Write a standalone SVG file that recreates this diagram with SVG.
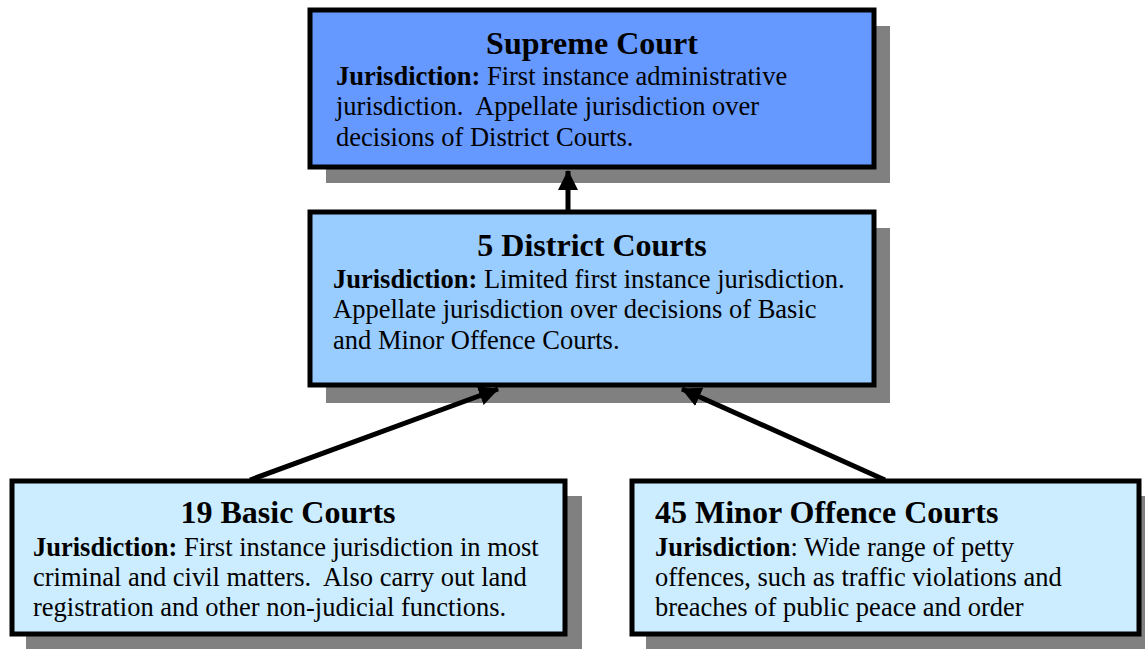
<svg xmlns="http://www.w3.org/2000/svg" width="1145" height="649" viewBox="0 0 1145 649">
<style>
.box{stroke:#000;stroke-width:5}
.sh{fill:#808080}
.t{font-family:"Liberation Serif","Times New Roman",serif;fill:#000;white-space:pre}
.title{font-size:32px;font-weight:bold}
.body{font-size:26.5px}
.b{font-weight:bold}
.conn{stroke:#000;stroke-width:5;fill:none}
</style>
<defs>
<marker id="ah" markerWidth="4" markerHeight="4" refX="3.8" refY="2" orient="auto" markerUnits="strokeWidth">
<path d="M0,0 L4,2 L0,4 Z" fill="#000"/>
</marker>
</defs>
<rect width="1145" height="649" fill="#fff"/>
<g id="supreme">
<rect class="sh" x="326" y="26" width="564" height="157"/>
<rect class="box" x="310" y="10" width="564" height="157" fill="#6699FF"/>
<text class="t title" x="592" y="54" text-anchor="middle">Supreme Court</text>
<text class="t body" x="336" y="85"><tspan class="b">Jurisdiction:</tspan> First instance administrative</text>
<text class="t body" x="336" y="115">jurisdiction.  Appellate jurisdiction over</text>
<text class="t body" x="336" y="146">decisions of District Courts.</text>
</g>
<g id="district">
<rect class="sh" x="326" y="228" width="564" height="175"/>
<rect class="box" x="310" y="212" width="564" height="173" fill="#99CCFF"/>
<text class="t title" x="592" y="256" text-anchor="middle">5 District Courts</text>
<text class="t body" x="333" y="288"><tspan class="b">Jurisdiction:</tspan> Limited first instance jurisdiction.</text>
<text class="t body" x="333" y="318">Appellate jurisdiction over decisions of Basic</text>
<text class="t body" x="333" y="349">and Minor Offence Courts.</text>
</g>
<g id="basic">
<rect class="sh" x="26" y="496" width="556" height="153"/>
<rect class="box" x="12" y="481" width="553" height="153" fill="#CCECFF"/>
<text class="t title" x="288" y="523" text-anchor="middle">19 Basic Courts</text>
<text class="t body" x="33" y="556"><tspan class="b">Jurisdiction:</tspan> First instance jurisdiction in most</text>
<text class="t body" x="33" y="586">criminal and civil matters.  Also carry out land</text>
<text class="t body" x="33" y="616">registration and other non-judicial functions.</text>
</g>
<g id="minor">
<rect class="sh" x="646" y="496" width="499" height="153"/>
<rect class="box" x="632" y="481" width="507" height="153" fill="#CCECFF"/>
<text class="t title" x="655" y="523">45 Minor Offence Courts</text>
<text class="t body" x="655" y="556"><tspan class="b">Jurisdiction</tspan>: Wide range of petty</text>
<text class="t body" x="655" y="586">offences, such as traffic violations and</text>
<text class="t body" x="655" y="616">breaches of public peace and order</text>
</g>
<g id="connectors">
<line class="conn" x1="568" y1="210" x2="568" y2="171" marker-end="url(#ah)"/>
<line class="conn" x1="250" y1="480" x2="498" y2="389" marker-end="url(#ah)"/>
<line class="conn" x1="885" y1="480" x2="682" y2="389" marker-end="url(#ah)"/>
</g>
</svg>
